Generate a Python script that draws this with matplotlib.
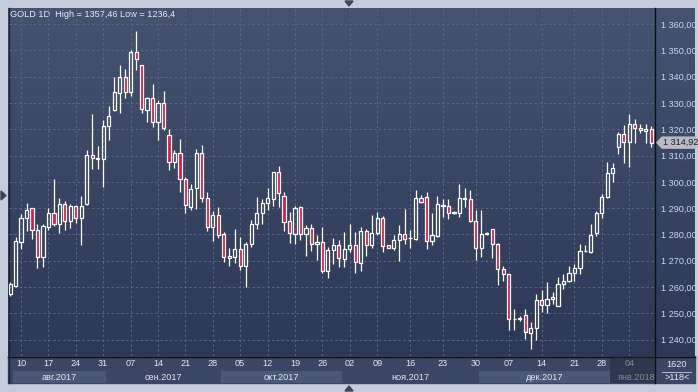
import numpy as np
import matplotlib.pyplot as plt
from matplotlib.patches import Rectangle, Polygon
from matplotlib import transforms

plt.rcParams['font.family'] = ['Liberation Sans', 'DejaVu Sans']

# daily OHLC
opens = [1257.5, 1260.6, 1277.1, 1286.4, 1290.0, 1281.8, 1271.4, 1282.9, 1288.0, 1284.1,
         1291.4, 1285.0, 1290.8, 1286.1, 1291.5, 1310.1, 1308.8, 1308.6, 1321.3, 1327.4,
         1333.8, 1339.8, 1334.3, 1349.4, 1344.3, 1327.4, 1331.8, 1322.6, 1329.8, 1317.9,
         1307.7, 1311.1, 1301.1, 1290.3, 1297.7, 1311.1, 1293.9, 1282.8, 1287.4, 1280.1,
         1270.9, 1271.4, 1274.6, 1268.0, 1276.5, 1284.1, 1288.0, 1291.8, 1293.3, 1303.6,
         1294.8, 1285.0, 1280.3, 1290.3, 1280.3, 1282.6, 1276.5, 1277.1, 1266.3, 1274.2,
         1276.1, 1270.8, 1274.6, 1276.1, 1269.2, 1281.2, 1276.1, 1280.6, 1286.1, 1275.9,
         1274.8, 1277.8, 1280.3, 1278.6, 1278.4, 1293.7, 1294.1, 1277.4, 1279.4, 1291.0,
         1291.0, 1288.3, 1288.0, 1293.5, 1293.3, 1285.2, 1275.0, 1280.2, 1282.0, 1276.5,
         1266.9, 1264.8, 1247.7, 1248.2, 1249.4, 1242.7, 1244.4, 1255.1, 1253.3, 1255.5,
         1252.9, 1261.2, 1262.5, 1265.3, 1267.3, 1273.6, 1273.3, 1280.5, 1288.0, 1294.3,
         1303.2, 1313.2, 1318.3, 1315.0, 1322.1, 1319.6, 1319.2, 1320.1]
highs = [1262.0, 1279.0, 1287.7, 1291.8, 1290.2, 1284.1, 1283.9, 1289.9, 1301.0, 1293.7,
         1292.7, 1291.5, 1291.0, 1294.6, 1312.2, 1325.9, 1313.7, 1323.6, 1329.0, 1339.8,
         1344.5, 1343.0, 1350.0, 1357.46, 1344.5, 1332.2, 1337.2, 1331.1, 1334.6, 1320.0,
         1312.0, 1316.2, 1301.9, 1299.0, 1312.4, 1313.9, 1296.2, 1288.8, 1290.4, 1280.8,
         1274.7, 1282.2, 1279.0, 1277.1, 1285.4, 1294.1, 1293.6, 1297.5, 1303.8, 1306.0,
         1296.2, 1288.6, 1290.8, 1291.0, 1283.5, 1283.9, 1279.9, 1282.9, 1275.2, 1278.8,
         1278.0, 1280.8, 1284.1, 1280.8, 1282.9, 1282.2, 1287.3, 1288.6, 1287.0, 1276.1,
         1279.7, 1283.5, 1289.7, 1281.8, 1296.9, 1295.0, 1296.2, 1288.2, 1294.6, 1293.3,
         1293.4, 1288.9, 1299.0, 1297.5, 1296.9, 1289.2, 1289.2, 1280.9, 1282.2, 1276.9,
         1268.2, 1265.0, 1251.7, 1249.1, 1251.7, 1246.6, 1257.4, 1258.9, 1261.8, 1258.0,
         1264.0, 1265.0, 1268.2, 1268.9, 1276.2, 1276.1, 1283.9, 1288.9, 1295.2, 1307.7,
         1307.3, 1318.8, 1321.7, 1325.9, 1323.9, 1322.1, 1322.1, 1321.1]
lows = [1256.5, 1260.0, 1274.3, 1281.3, 1278.4, 1267.3, 1267.6, 1281.8, 1283.1, 1280.6,
        1281.6, 1282.5, 1284.4, 1276.0, 1291.3, 1305.0, 1305.0, 1298.2, 1316.0, 1326.8,
        1326.1, 1331.8, 1332.8, 1342.7, 1326.1, 1322.8, 1321.0, 1316.0, 1319.8, 1304.5,
        1305.1, 1296.0, 1288.1, 1289.4, 1289.7, 1292.2, 1281.5, 1277.7, 1278.6, 1269.6,
        1268.2, 1269.1, 1266.6, 1260.2, 1275.2, 1282.2, 1284.1, 1289.2, 1290.8, 1290.5,
        1281.2, 1276.8, 1276.5, 1278.0, 1272.0, 1273.6, 1270.4, 1265.3, 1263.5, 1268.9,
        1267.6, 1267.6, 1273.3, 1265.3, 1266.3, 1271.8, 1274.8, 1279.7, 1273.3, 1274.8,
        1274.0, 1269.9, 1276.2, 1274.8, 1277.8, 1291.8, 1274.6, 1276.1, 1279.0, 1286.7,
        1285.7, 1287.7, 1286.7, 1290.5, 1284.8, 1270.4, 1271.4, 1279.7, 1271.1, 1260.8,
        1262.2, 1243.8, 1243.8, 1247.2, 1240.2, 1236.4, 1239.8, 1250.4, 1250.0, 1253.6,
        1252.9, 1259.3, 1261.8, 1262.5, 1265.0, 1273.3, 1273.0, 1279.5, 1286.3, 1293.9,
        1300.1, 1310.6, 1307.3, 1305.8, 1314.7, 1318.5, 1314.7, 1313.2]
closes = [1261.2, 1277.4, 1286.4, 1289.2, 1281.8, 1271.4, 1283.1, 1288.0, 1284.1, 1291.4,
          1285.0, 1290.8, 1286.1, 1291.0, 1310.1, 1308.9, 1309.0, 1321.3, 1325.2, 1334.1,
          1339.8, 1334.3, 1349.4, 1346.6, 1327.7, 1331.8, 1322.6, 1329.8, 1320.3, 1307.7,
          1311.1, 1301.1, 1291.2, 1297.3, 1311.1, 1293.9, 1282.8, 1287.4, 1279.8, 1271.3,
          1271.8, 1274.6, 1268.0, 1276.5, 1284.1, 1288.0, 1291.8, 1293.7, 1303.6, 1295.9,
          1284.8, 1280.7, 1289.9, 1280.3, 1282.6, 1276.5, 1277.1, 1266.3, 1274.0, 1276.1,
          1271.1, 1274.6, 1276.1, 1269.5, 1281.2, 1276.1, 1280.7, 1286.3, 1275.6, 1275.0,
          1277.8, 1280.3, 1278.4, 1278.8, 1293.7, 1292.2, 1277.4, 1279.7, 1291.4, 1291.3,
          1288.3, 1288.6, 1293.7, 1293.8, 1285.2, 1275.0, 1280.3, 1280.4, 1276.2, 1266.9,
          1264.8, 1247.8, 1247.9, 1247.8, 1243.1, 1244.4, 1255.1, 1253.3, 1255.5, 1256.4,
          1261.2, 1262.5, 1265.3, 1267.3, 1273.7, 1273.8, 1279.7, 1288.0, 1294.3, 1303.2,
          1305.2, 1318.3, 1315.0, 1322.1, 1320.4, 1320.4, 1320.1, 1314.92]

day_ticks = [2, 7, 12, 17, 22, 27, 32, 37, 42, 47, 52, 57, 62, 67, 73, 79, 85, 91, 97, 103, 108, 113]
day_labels = ['10', '17', '24', '31', '07', '14', '21', '28', '05', '12', '19', '26',
              '02', '09', '16', '23', '30', '07', '14', '21', '28', '04']
month_labels = ['авг.2017', 'сен.2017', 'окт.2017', 'ноя.2017', 'дек.2017', 'янв.2018']
month_edges = [0.5, 17.5, 38.5, 60.5, 85.5, 109.5, 117.7]
price_levels = np.arange(1240, 1361, 10)

W, H = 698, 392
fig = plt.figure(figsize=(W / 100, H / 100), dpi=100, facecolor='#c4cdd9')

# backdrop in pixel coordinates
bg = fig.add_axes([0, 0, 1, 1])
bg.set_xlim(0, W)
bg.set_ylim(H, 0)
bg.axis('off')
top = np.array([0x45, 0x52, 0x70]) / 255
bot = np.array([0x2c, 0x38, 0x55]) / 255
t = np.linspace(0, 1, 256)[:, None, None]
bg.imshow(top + (bot - top) * t, extent=(8, 695, 356, 8), aspect='auto')
bg.add_patch(Rectangle((8, 356), 687, 27, color='#3a4664'))
bg.plot([655, 655], [8, 383], color='#0c0f16', lw=1)
bg.plot([8, 695], [356.5, 356.5], color='#0c0f16', lw=1)
bg.plot([8.5, 8.5], [8, 383], color='#1c2331', lw=1)
bg.add_patch(Polygon([[345, 1], [353, 1], [349, 6]], color='#3d4656'))
bg.add_patch(Polygon([[345, 391], [353, 391], [349, 386]], color='#3d4656'))
bg.add_patch(Polygon([[1, 191], [1, 200], [6, 195.5]], color='#3d4656'))
bg.text(677, 364.5, '1620', color='#e6ebf3', fontsize=6.6, ha='center', va='center')
bg.plot([662, 691], [371.5, 371.5], color='#c8d0dc', lw=0.6)
bg.text(677, 377.5, '>%d<' % len(opens), color='#e6ebf3', fontsize=6.6, ha='center', va='center')
bg.text(10, 14, 'GOLD 1D  High = %s Low = %s' % (('%g' % max(highs)).replace('.', ','),
                                                   ('%g' % min(lows)).replace('.', ',')),
        color='#e8ecf4', fontsize=6.6, va='center')

# price panel
L, R, T, B = 9, 655, 8, 356
ax = fig.add_axes([L / W, 1 - B / H, (R - L) / W, (B - T) / H])
ax.patch.set_alpha(0)
for s in ax.spines.values():
    s.set_visible(False)

idx = np.arange(len(opens))
o, h, l, c = (np.array(a) for a in (opens, highs, lows, closes))
up = c >= o
lo_b, hi_b = np.minimum(o, c), np.maximum(o, c)
ax.vlines(idx, hi_b, h, color='white', lw=0.9, zorder=3)
ax.vlines(idx, l, lo_b, color='white', lw=0.9, zorder=3)
ax.bar(idx, np.maximum(hi_b - lo_b, 0.12), bottom=lo_b, width=0.58,
       color=np.where(up, 'none', '#e3173d'), edgecolor='white', linewidth=0.9, zorder=4)

ax.set_xlim(-0.2, 117.7)
ax.set_ylim(1233.8, 1366.1)
ax.set_xticks(day_ticks)
ax.set_yticks(price_levels)
ax.set_yticklabels(['{:,.2f}'.format(v).replace(',', ' ').replace('.', ',') for v in price_levels])
ax.yaxis.tick_right()
ax.tick_params(axis='y', length=0, pad=4.5, labelsize=6.6, labelcolor='#cdd6e8')
ax.tick_params(axis='x', length=0, labelbottom=False)
ax.grid(True, color='#56668a', linestyle=(0, (2.5, 2.5)), linewidth=0.7, zorder=0)

# current price tag
p = closes[-1]
tr = transforms.blended_transform_factory(ax.transAxes, ax.transData)
ax.add_patch(Polygon([[1.003, p], [1.011, p + 2.1], [1.064, p + 2.1], [1.064, p - 2.1], [1.011, p - 2.1]],
                     closed=True, color='#b7bbc3', transform=tr, clip_on=False, zorder=5))
ax.text(1.013, p, '{:,.2f}'.format(p).replace(',', ' ').replace('.', ','), transform=tr,
        fontsize=6.6, color='#1e2126', va='center', ha='left', zorder=6)

# date band
axd = fig.add_axes([L / W, 1 - 383 / H, (R - L) / W, 27 / H], sharex=ax)
axd.patch.set_alpha(0)
axd.set_ylim(27, 0)
axd.axis('off')
for k in range(0, len(month_labels) - 1, 2):
    axd.add_patch(Rectangle((month_edges[k], 14.5), month_edges[k + 1] - month_edges[k], 12.5,
                            color='#4a5876', lw=0))
for k, name in enumerate(month_labels):
    mid = (month_edges[k] + month_edges[k + 1]) / 2
    col = '#808a9c' if k == len(month_labels) - 1 else '#e1e6ef'
    axd.text(mid if k < len(month_labels) - 1 else 114.4, 21, name, color=col,
             fontsize=6.6, ha='center', va='center', clip_on=True)
for x, lab in zip(day_ticks, day_labels):
    col = '#808a9c' if x > month_edges[-2] else '#e1e6ef'
    axd.text(x, 8, lab, color=col, fontsize=6.6, ha='center', va='center')
axd.add_patch(Rectangle((month_edges[-2], 0), month_edges[-1] - month_edges[-2], 27,
                        color='#222a38', alpha=0.5, lw=0))

fig.savefig('out.png', dpi=100, facecolor=fig.get_facecolor())
